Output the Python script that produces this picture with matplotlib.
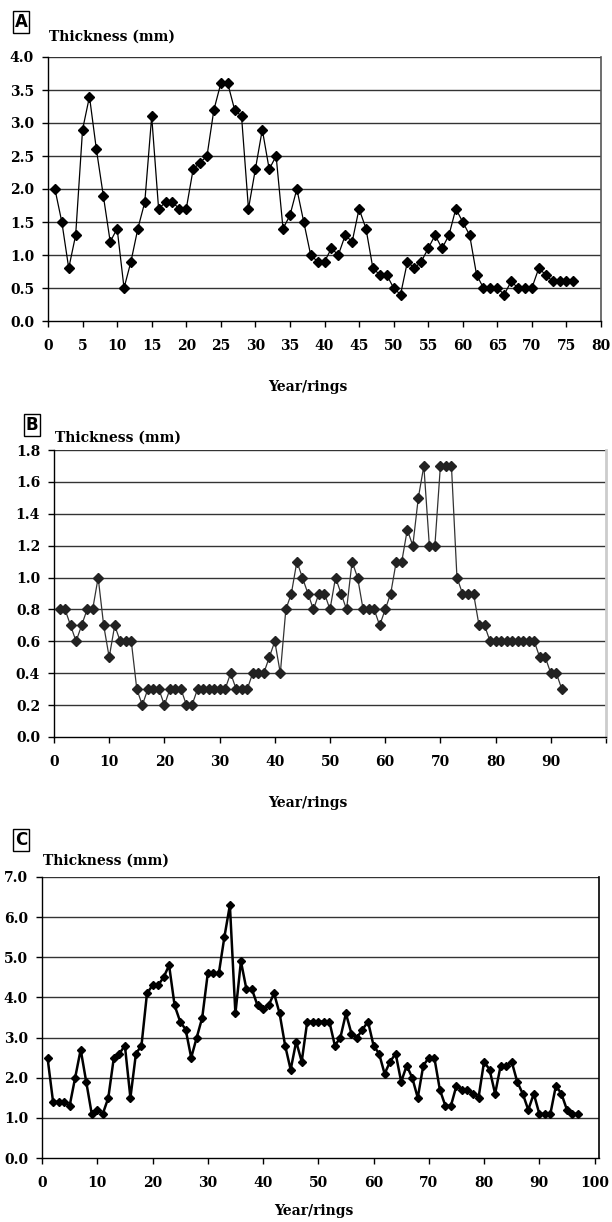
import matplotlib
matplotlib.use("Agg")
import matplotlib.pyplot as plt
import numpy as np

# ---------------- data ----------------
a_years = list(range(1, 77))
a_thick = [2.0, 1.5, 0.8, 1.3, 2.9, 3.4, 2.6, 1.9, 1.2, 1.4,
           0.5, 0.9, 1.4, 1.8, 3.1, 1.7, 1.8, 1.8, 1.7, 1.7,
           2.3, 2.4, 2.5, 3.2, 3.6, 3.6, 3.2, 3.1, 1.7, 2.3,
           2.9, 2.3, 2.5, 1.4, 1.6, 2.0, 1.5, 1.0, 0.9, 0.9,
           1.1, 1.0, 1.3, 1.2, 1.7, 1.4, 0.8, 0.7, 0.7, 0.5,
           0.4, 0.9, 0.8, 0.9, 1.1, 1.3, 1.1, 1.3, 1.7, 1.5,
           1.3, 0.7, 0.5, 0.5, 0.5, 0.4, 0.6, 0.5, 0.5, 0.5,
           0.8, 0.7, 0.6, 0.6, 0.6, 0.6]

b_years = list(range(1, 93))
b_thick = [0.8, 0.8, 0.7, 0.6, 0.7, 0.8, 0.8, 1.0, 0.7, 0.5,
           0.7, 0.6, 0.6, 0.6, 0.3, 0.2, 0.3, 0.3, 0.3, 0.2,
           0.3, 0.3, 0.3, 0.2, 0.2, 0.3, 0.3, 0.3, 0.3, 0.3,
           0.3, 0.4, 0.3, 0.3, 0.3, 0.4, 0.4, 0.4, 0.5, 0.6,
           0.4, 0.8, 0.9, 1.1, 1.0, 0.9, 0.8, 0.9, 0.9, 0.8,
           1.0, 0.9, 0.8, 1.1, 1.0, 0.8, 0.8, 0.8, 0.7, 0.8,
           0.9, 1.1, 1.1, 1.3, 1.2, 1.5, 1.7, 1.2, 1.2, 1.7,
           1.7, 1.7, 1.0, 0.9, 0.9, 0.9, 0.7, 0.7, 0.6, 0.6,
           0.6, 0.6, 0.6, 0.6, 0.6, 0.6, 0.6, 0.5, 0.5, 0.4,
           0.4, 0.3]

c_years = list(range(1, 98))
c_thick = [2.5, 1.4, 1.4, 1.4, 1.3, 2.0, 2.7, 1.9, 1.1, 1.2,
           1.1, 1.5, 2.5, 2.6, 2.8, 1.5, 2.6, 2.8, 4.1, 4.3,
           4.3, 4.5, 4.8, 3.8, 3.4, 3.2, 2.5, 3.0, 3.5, 4.6,
           4.6, 4.6, 5.5, 6.3, 3.6, 4.9, 4.2, 4.2, 3.8, 3.7,
           3.8, 4.1, 3.6, 2.8, 2.2, 2.9, 2.4, 3.4, 3.4, 3.4,
           3.4, 3.4, 2.8, 3.0, 3.6, 3.1, 3.0, 3.2, 3.4, 2.8,
           2.6, 2.1, 2.4, 2.6, 1.9, 2.3, 2.0, 1.5, 2.3, 2.5,
           2.5, 1.7, 1.3, 1.3, 1.8, 1.7, 1.7, 1.6, 1.5, 2.4,
           2.2, 1.6, 2.3, 2.3, 2.4, 1.9, 1.6, 1.2, 1.6, 1.1,
           1.1, 1.1, 1.8, 1.6, 1.2, 1.1, 1.1]

a_xticks = list(range(0, 81, 5))
a_yticks = [0.0, 0.5, 1.0, 1.5, 2.0, 2.5, 3.0, 3.5, 4.0]
b_xticks = list(range(0, 101, 10))
b_xlabels = ['0', '10', '20', '30', '40', '50', '60', '70', '80', '90', '']
b_yticks = [0.0, 0.2, 0.4, 0.6, 0.8, 1.0, 1.2, 1.4, 1.6, 1.8]
c_xticks = list(range(0, 101, 10))
c_yticks = [0.0, 1.0, 2.0, 3.0, 4.0, 5.0, 6.0, 7.0]

ylabel_text = "Thickness (mm)"
xlabel_text = "Year/rings"

# ---------------- figure ----------------
W, H = 612, 1222
fig = plt.figure(figsize=(W / 100, H / 100), dpi=100)
fig.patch.set_facecolor('white')

SERIF = ['DejaVu Serif']
FS = 10


def add_ax(l, t, r, b):
    return fig.add_axes([l / W, 1 - b / H, (r - l) / W, (b - t) / H])


def ftext(x, y, s, **kw):
    fig.text(x / W, 1 - y / H, s, **kw)


def style(ax, xlim, ylim, xticks, xlabels, yticks, right_color, right_lw):
    ax.set_xlim(*xlim)
    ax.set_ylim(*ylim)
    ax.set_xticks(xticks)
    ax.set_xticklabels(xlabels, fontfamily=SERIF, fontweight='bold', fontsize=FS)
    ax.set_yticks(yticks)
    ax.set_yticklabels(["%.1f" % v for v in yticks], fontfamily=SERIF,
                       fontweight='bold', fontsize=FS)
    for v in yticks[1:]:
        ax.axhline(v, color='#333333', lw=1.0, zorder=1)
    ax.spines['left'].set_color('black')
    ax.spines['bottom'].set_color('black')
    ax.spines['left'].set_linewidth(1.0)
    ax.spines['bottom'].set_linewidth(1.0)
    ax.spines['top'].set_visible(False)
    ax.spines['right'].set_color(right_color)
    ax.spines['right'].set_linewidth(right_lw)
    ax.tick_params(axis='x', direction='out', length=4, width=1, pad=9,
                   colors='black', top=False)
    ax.tick_params(axis='y', direction='out', length=4, width=1, pad=6,
                   colors='black', right=False)


def panel_label(x, y, s):
    ftext(x, y, s, fontsize=12, fontweight='bold', fontfamily=['DejaVu Sans'],
          ha='center', va='center',
          bbox=dict(boxstyle='square,pad=0.12', fc='white', ec='black', lw=1.0))


# Panel A
axA = add_ax(48, 57, 601, 321)
axA.plot(a_years, a_thick, color='black', lw=0.9, marker='D', ms=5.5,
         mfc='black', mec='black', zorder=3, clip_on=False)
style(axA, (0, 80), (0, 4.0), a_xticks, [str(v) for v in a_xticks],
      a_yticks, '#555555', 1.2)
panel_label(21, 22, 'A')
ftext(49, 37, ylabel_text, fontsize=FS, fontweight='bold', fontfamily=SERIF,
      ha='left', va='center')
ftext(308, 387, xlabel_text, fontsize=FS, fontweight='bold', fontfamily=SERIF,
      ha='center', va='center')

# Panel B
axB = add_ax(54, 450, 606, 737)
axB.plot(b_years, b_thick, color='#333333', lw=0.9, marker='D', ms=4.8,
         mfc='#222222', mec='#222222', zorder=3, clip_on=False)
style(axB, (0, 100), (0, 1.8), b_xticks, b_xlabels, b_yticks, '#cccccc', 2.0)
panel_label(32, 425, 'B')
ftext(55, 438, ylabel_text, fontsize=FS, fontweight='bold', fontfamily=SERIF,
      ha='left', va='center')
ftext(308, 803, xlabel_text, fontsize=FS, fontweight='bold', fontfamily=SERIF,
      ha='center', va='center')

# Panel C
axC = add_ax(42, 877, 599, 1158)
axC.plot(c_years, c_thick, color='black', lw=1.8, marker='D', ms=4.5,
         mfc='black', mec='black', zorder=3, clip_on=False)
style(axC, (0, 100.8), (0, 7.0), c_xticks, [str(v) for v in c_xticks],
      c_yticks, 'black', 1.2)
panel_label(21, 840, 'C')
ftext(43, 861, ylabel_text, fontsize=FS, fontweight='bold', fontfamily=SERIF,
      ha='left', va='center')
ftext(314, 1211, xlabel_text, fontsize=FS, fontweight='bold', fontfamily=SERIF,
      ha='center', va='center')

fig.savefig('out.png', dpi=100, facecolor='white')
